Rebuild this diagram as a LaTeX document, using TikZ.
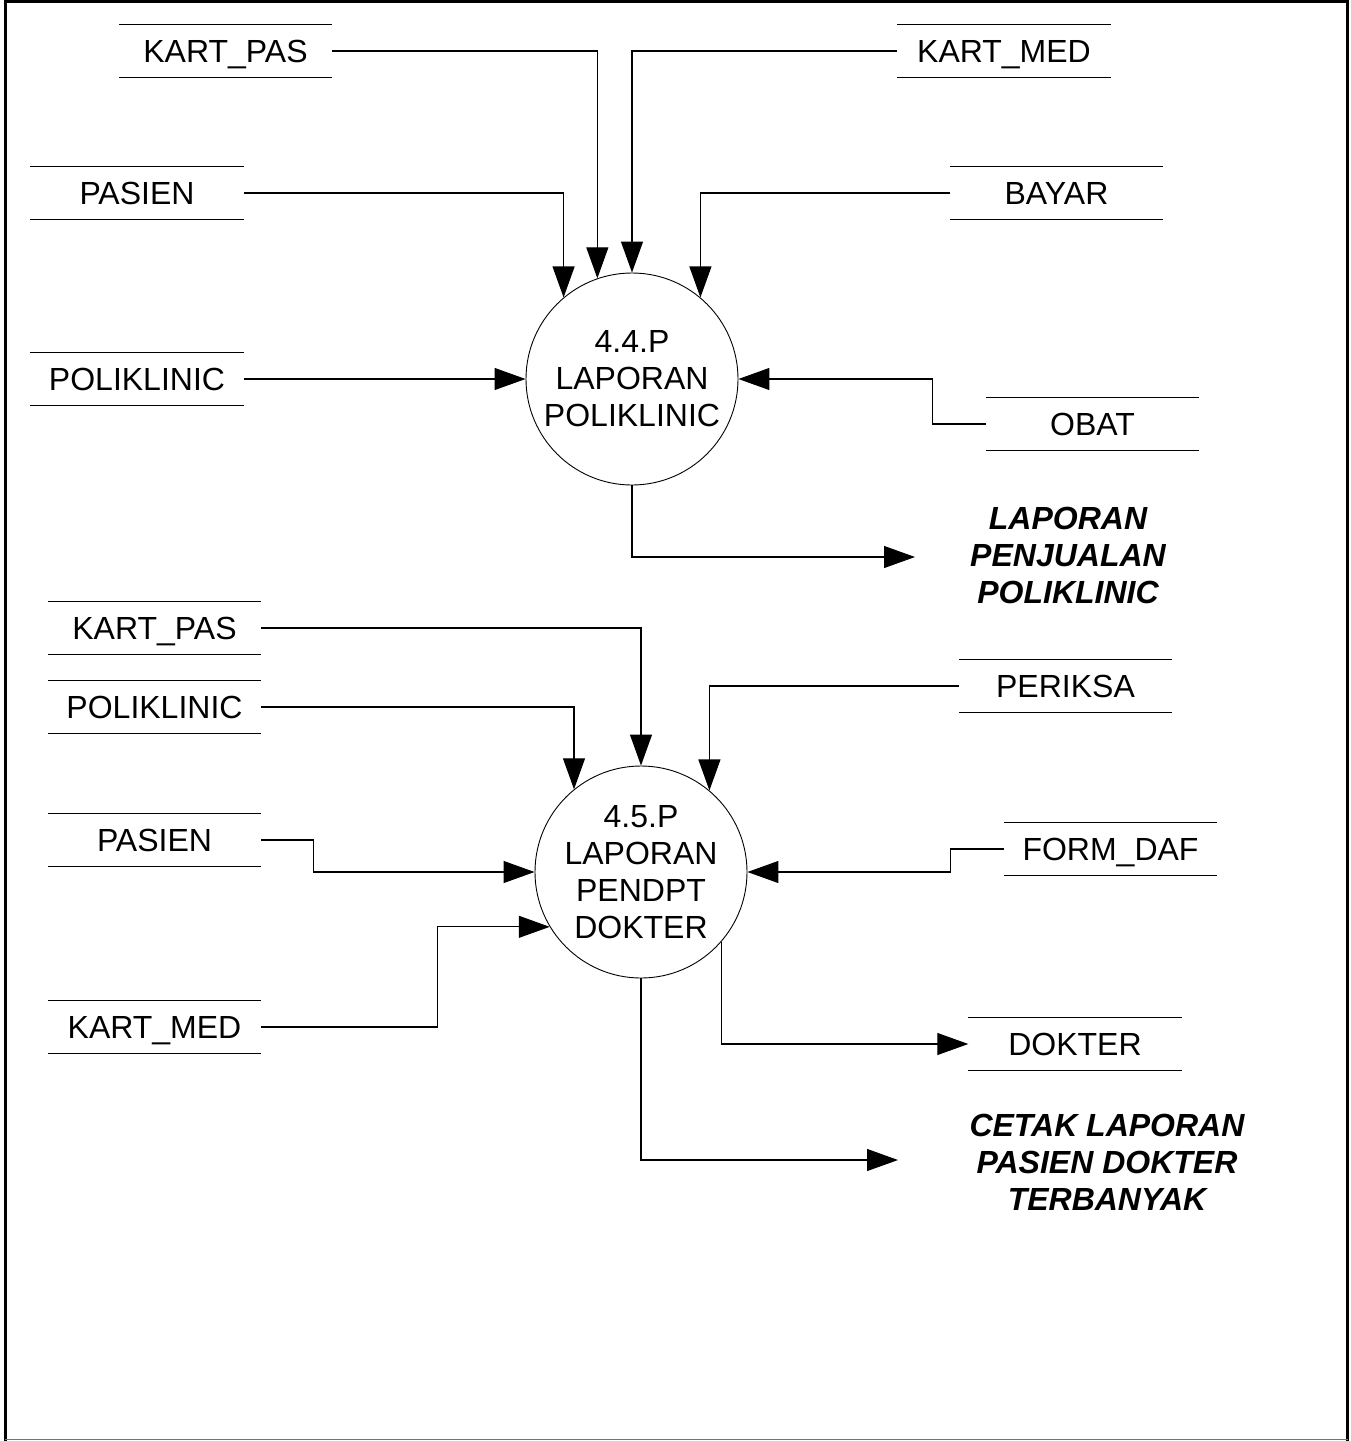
\documentclass[tikz,border=0pt]{standalone}
\usepackage{fontspec}
\setmainfont{Liberation Sans}
\usetikzlibrary{arrows.meta,calc}

\tikzset{
  lbl/.style={font=\fontsize{32}{37}\selectfont},
  bubble/.style={circle, draw, line width=0.9pt, minimum size=212pt, inner sep=0pt,
                 align=center, lbl},
  storebox/.style={minimum width=213pt, minimum height=53pt, inner sep=0pt,
                   text height=23pt, text depth=0pt, lbl},
  storeline/.style={line width=1.1pt},
  flow/.style={line width=1.1pt, -{Triangle[length=31pt,width=22pt]}},
  outtext/.style={align=center, font=\fontsize{32}{37}\selectfont\bfseries\itshape},
}

% data store: text between an upper and a lower rule
\newcommand{\datastore}[3]{%
  \node[storebox] (#1) at (#2) {#3};
  \draw[storeline] (#1.north west) -- (#1.north east)
                   (#1.south west) -- (#1.south east);
}

\begin{document}
\begin{tikzpicture}[x=1pt, y=-1pt]
\useasboundingbox (0,0) rectangle (1351,1441);

% page frame
\draw[line width=3pt] (5,1441) -- (5,1.5) -- (1347.5,1.5) -- (1347.5,1441);
\draw[line width=1.5pt, black!55] (5,1439.5) -- (1347.5,1439.5);

% ---------- process 4.4.P ----------
\node[bubble] (c1) at (632,379) {4.4.P\\LAPORAN\\POLIKLINIC};

\datastore{kp1}{225.5,51}{KART\_PAS}
\datastore{km1}{1004,51}{KART\_MED}
\datastore{ps1}{137,193}{PASIEN}
\datastore{by1}{1056.5,193}{BAYAR}
\datastore{pk1}{137,379}{POLIKLINIC}
\datastore{ob1}{1092.5,424}{OBAT}

\draw[flow] (kp1.east) -| (c1.109.9);
\draw[flow] (km1.west) -| (c1.north);
\draw[flow] (ps1.east) -| (c1.130.6);
\draw[flow] (by1.west) -| (c1.50.8);
\draw[flow] (pk1.east) -- (c1.west);
\draw[flow] (ob1.west) -- ($(ob1.west)+(-53,0)$) |- (c1.east);

\coordinate (o1) at (915,557);
\draw[flow] (c1.south) |- (o1);
\node[outtext] (t1) at (1068,555) {LAPORAN\\PENJUALAN\\POLIKLINIC};

% ---------- process 4.5.P ----------
\node[bubble] (c2) at (641,872) {4.5.P\\LAPORAN\\PENDPT\\DOKTER};

\datastore{kp2}{154.5,628}{KART\_PAS}
\datastore{pk2}{154.5,707}{POLIKLINIC}
\datastore{ps2}{154.5,840}{PASIEN}
\datastore{km2}{154.5,1027}{KART\_MED}
\datastore{pr2}{1065.5,686}{PERIKSA}
\datastore{fd2}{1110.5,849}{FORM\_DAF}
\datastore{dk2}{1075,1044}{DOKTER}

\draw[flow] (kp2.east) -| (c2.north);
\draw[flow] (pk2.east) -| (c2.129.9);
\draw[flow] (pr2.west) -| (c2.50.8);
\draw[flow] (ps2.east) -- ($(ps2.east)+(52,0)$) |- (c2.west);
\draw[flow] (fd2.west) -- ($(fd2.west)+(-53,0)$) |- (c2.east);
\draw[flow] (km2.east) -- ($(km2.east)+(176,0)$) |- (c2.211.9);
\draw[flow] (c2.319) |- (dk2.west);

\coordinate (o2) at (898,1160);
\draw[flow] (c2.south) |- (o2);
\node[outtext] (t2) at (1107,1162) {CETAK LAPORAN\\PASIEN DOKTER\\TERBANYAK};
\end{tikzpicture}
\end{document}
